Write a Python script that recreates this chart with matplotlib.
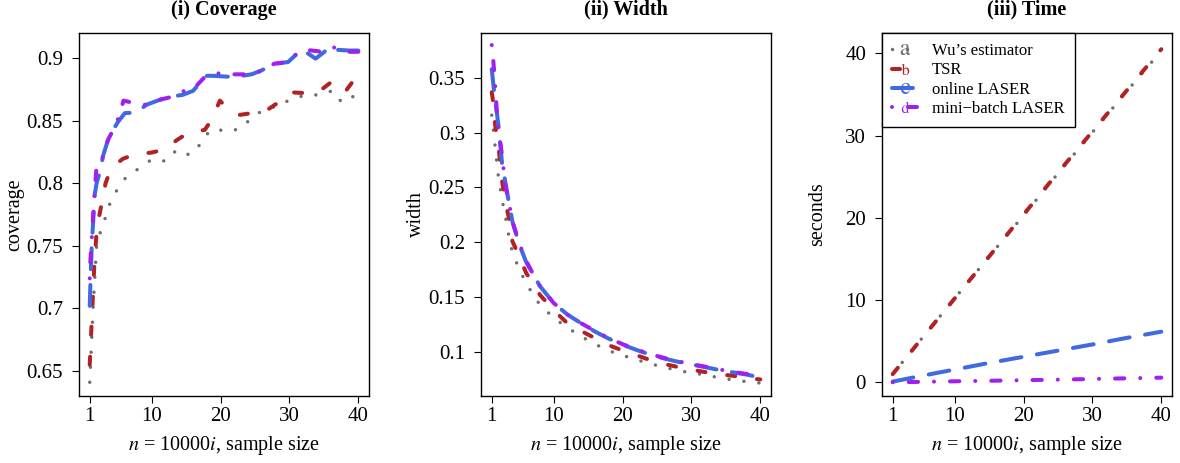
import matplotlib
matplotlib.use('Agg')
import matplotlib.pyplot as plt
from matplotlib.lines import Line2D

# fonts: Times-like serif, stix for the math bits
matplotlib.rcParams.update({'font.family': 'Liberation Serif', 'mathtext.fontset': 'stix',
                            'font.size': 14, 'lines.scale_dashes': False})

# ---- (i) coverage ----
cov_wu_x = [1.0, 1.1, 1.3, 1.5, 1.75, 2.0, 2.6, 3.3, 4.0, 5.0, 6.3, 8.2, 10.0, 12.1, 13.6, 15.3, 16.5,
            17.5, 19.0, 21.1, 22.9, 24.5, 26.3, 28.4, 30.3, 32.4, 34.5, 36.3, 37.6, 39.1, 40.0]
cov_wu = [0.641, 0.653, 0.677, 0.702, 0.726, 0.750, 0.762, 0.773, 0.785, 0.795, 0.805, 0.812, 0.819,
          0.8176, 0.8266, 0.823, 0.826, 0.837, 0.8434, 0.8413, 0.8437, 0.852, 0.859, 0.8618, 0.8674,
          0.8704, 0.8706, 0.874, 0.8645, 0.869, 0.870]
cov_tsr_x = [1.0, 1.1, 1.3, 1.5, 1.7, 2.0, 2.45, 2.9, 3.3, 4.1, 5.8, 7.5, 10.0, 11.6, 13.8, 15.3, 17.7,
             18.7, 19.9, 20.8, 22.8, 24.5, 26.9, 28.6, 30.5, 32.4, 34.6, 36.2, 37.0, 38.3, 39.5, 40.0]
cov_tsr = [0.655, 0.668, 0.691, 0.715, 0.739, 0.761, 0.776, 0.788, 0.800, 0.812, 0.8195, 0.823, 0.8245,
           0.8266, 0.835, 0.8403, 0.8426, 0.8506, 0.866, 0.861, 0.8546, 0.856, 0.859, 0.8653, 0.8725,
           0.872, 0.8746, 0.8813, 0.882, 0.8746, 0.8835, 0.8865]
cov_onl_x = [1.0, 1.1, 1.2, 1.3, 1.45, 1.6, 1.75, 2.0, 2.55, 2.93, 3.66, 4.4, 5.1, 6.1, 7.8, 9.2, 11.2,
             12.6, 14.5, 16.0, 17.9, 18.9, 22.0, 24.5, 25.9, 27.8, 29.8, 31.8, 33.8, 36.0, 36.8, 38.7, 40.0]
cov_onl = [0.702, 0.72, 0.736, 0.752, 0.765, 0.78, 0.792, 0.80, 0.8106, 0.8218, 0.8347, 0.8426, 0.849,
           0.856, 0.8565, 0.8626, 0.8667, 0.869, 0.8706, 0.8738, 0.8858, 0.8858, 0.8848, 0.887, 0.890,
           0.8954, 0.8968, 0.907, 0.8995, 0.909, 0.9066, 0.906, 0.906]
cov_mb_x = [1.0, 1.1, 1.3, 1.45, 1.7, 1.95, 2.5, 2.93, 3.66, 4.4, 5.25, 5.9, 7.05, 9.2, 11.2, 12.9, 14.8,
            16.0, 17.9, 19.9, 22.0, 24.5, 25.9, 27.8, 29.8, 31.2, 32.3, 34.4, 36.1, 38.7, 40.0]
cov_mb = [0.724, 0.7386, 0.757, 0.7706, 0.792, 0.8106, 0.812, 0.8218, 0.8347, 0.8426, 0.8533, 0.866,
          0.8645, 0.8626, 0.8667, 0.869, 0.874, 0.875, 0.886, 0.888, 0.887, 0.887, 0.8898, 0.8955,
          0.8968, 0.9045, 0.9066, 0.9053, 0.909, 0.905, 0.905]

# ---- (ii) width ----
wid_x = [1, 1.25, 1.5, 1.75, 2, 2.5, 3, 3.5, 4, 5, 6, 7, 8, 10, 12, 14, 16, 18, 20, 22, 24, 26, 28, 30,
         32, 34, 36, 38, 40]
wid_wu = [0.316, 0.302, 0.287, 0.272, 0.258, 0.239, 0.223, 0.205, 0.191, 0.175, 0.163, 0.152, 0.143,
          0.131, 0.122, 0.114, 0.107, 0.101, 0.0968, 0.0928, 0.0892, 0.086, 0.083, 0.0808, 0.079,
          0.0763, 0.0744, 0.0728, 0.0715]
wid_tsr = [0.337, 0.326, 0.307, 0.296, 0.286, 0.256, 0.236, 0.222, 0.201, 0.187, 0.172, 0.162, 0.152,
           0.138, 0.126, 0.119, 0.1125, 0.106, 0.1013, 0.097, 0.0925, 0.089, 0.0862, 0.0838, 0.0815,
           0.0795, 0.0782, 0.0762, 0.0748]
wid_onl = [0.358, 0.343, 0.329, 0.318, 0.305, 0.272, 0.254, 0.236, 0.219, 0.198, 0.182, 0.171, 0.160,
           0.1445, 0.134, 0.126, 0.1185, 0.112, 0.1065, 0.1018, 0.0975, 0.094, 0.091, 0.0885, 0.086,
           0.0835, 0.0813, 0.0793, 0.0765]
wid_mb = [0.380, 0.364, 0.343, 0.318, 0.303, 0.279, 0.251, 0.236, 0.219, 0.199, 0.183, 0.171, 0.160,
          0.1445, 0.134, 0.126, 0.119, 0.1125, 0.107, 0.1022, 0.098, 0.0945, 0.0915, 0.0888, 0.0865,
          0.084, 0.0818, 0.0798, 0.0772]

# ---- (iii) time ----
tim_x = [1, 5, 10, 15, 20, 25, 30, 35, 40]
tim_wu = [1.0, 5.1, 10.2, 15.3, 20.3, 25.4, 30.4, 35.4, 40.3]
tim_tsr = [1.0, 5.1, 10.2, 15.3, 20.4, 25.5, 30.5, 35.5, 40.5]
tim_onl = [0.08, 0.75, 1.55, 2.35, 3.1, 3.85, 4.6, 5.4, 6.15]
tim_mb = [0.0, 0.05, 0.12, 0.18, 0.25, 0.32, 0.40, 0.48, 0.56]

labels = ['Wu\u2019s estimator', 'TSR', 'online LASER', 'mini\u2212batch LASER']
letters = ['a', 'b', 'c', 'd']

# R-like line types (points), widths in points
sty = [dict(color='#6e6e6e', lw=2.5, dashes=(0.01, 10.8)),
       dict(color='#b22222', lw=2.9, dashes=(5.8, 15.8)),
       dict(color='#4169e1', lw=2.9, dashes=(15.1, 11.3)),
       dict(color='#a020f0', lw=2.9, dashes=(0.01, 11.5, 6.7, 11.5))]

fig = plt.figure(figsize=(11.8, 4.63), dpi=100)
lefts = [79/1180., 481/1180., 882/1180.]
axs = [fig.add_axes([l, 0.1447, 0.2458, 0.784]) for l in lefts]

panels = [([cov_wu_x, cov_tsr_x, cov_onl_x, cov_mb_x], [cov_wu, cov_tsr, cov_onl, cov_mb]),
          ([wid_x]*4, [wid_wu, wid_tsr, wid_onl, wid_mb]),
          ([tim_x]*4, [tim_wu, tim_tsr, tim_onl, tim_mb])]
titles = ['(i) Coverage', '(ii) Width', '(iii) Time']
ylabels = ['coverage', 'width', 'seconds']
ylims = [(0.630, 0.920), (0.0597, 0.391), (-1.67, 42.47)]
yticks = [[0.65, 0.7, 0.75, 0.8, 0.85, 0.9], [0.1, 0.15, 0.2, 0.25, 0.3, 0.35], [0, 10, 20, 30, 40]]

for ax, (xs, ys), t, yl, lim, yt in zip(axs, panels, titles, ylabels, ylims, yticks):
    for x, y, s in zip(xs, ys, sty):
        ax.plot(x, y, solid_capstyle='round', dash_capstyle='round', **s)
    ax.set_xlim(-0.56, 41.56)
    ax.set_ylim(*lim)
    ax.set_xticks([1, 10, 20, 30, 40])
    ax.set_yticks(yt)
    ax.set_yticklabels(['%g' % v for v in yt])
    ax.tick_params(direction='out', length=5, width=0.8, labelsize=15)
    ax.tick_params(axis='x', pad=3.2)
    ax.tick_params(axis='y', pad=6.5)
    for sp in ax.spines.values():
        sp.set_linewidth(1.0)
    ax.set_title(t, fontsize=14.5, fontweight='bold', pad=13)
    ax.set_xlabel(r'$n$ = 10000$i$, sample size', fontsize=14.5)
    ax.xaxis.set_label_coords(0.5, -0.105)
    ax.set_ylabel(yl, fontsize=14.5)
    ax.yaxis.set_label_coords(-0.19, 0.5)

# legend with letter symbols like R's pch
handles = [Line2D([], [], marker=r'$\mathrm{%s}$' % c, markersize=8, markeredgewidth=0,
                  dash_capstyle='round', **s) for c, s in zip(letters, sty)]
leg = axs[2].legend(handles, labels, loc='upper left', bbox_to_anchor=(0, 1), borderaxespad=0,
                    fontsize=12, fancybox=False, edgecolor='black', framealpha=1, numpoints=1,
                    borderpad=0.6, labelspacing=0.2, handlelength=1.5, handletextpad=0.9)
leg.get_frame().set_linewidth(1.0)

plt.savefig('out.png', dpi=100)
